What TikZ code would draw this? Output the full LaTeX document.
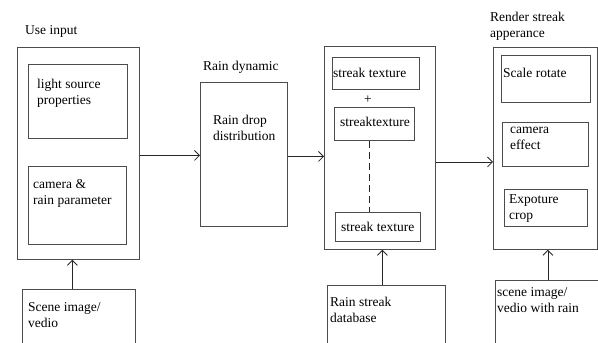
\documentclass[tikz,border=0pt]{standalone}
\usepackage{fontspec}
\setmainfont{Liberation Serif}
\usetikzlibrary{arrows.meta}

\begin{document}
\begin{tikzpicture}[x=1pt,y=-1pt,
	box/.style={draw=black!70,line width=0.8pt,anchor=north west,inner sep=0pt},
	txt/.style={anchor=north west,inner sep=0pt,align=left,font=\rmfamily\fontsize{13.5}{16}\selectfont},
	conn/.style={draw=black!85,line width=0.8pt},
	>={Straight Barb[length=5pt,width=10pt]}]
	\clip (0,0) rectangle (598,343);
	\node[box,minimum width=122pt,minimum height=212pt] (user) at (17,47) {};
	\node[box,minimum width=99pt,minimum height=74pt] (light) at (28,64) {};
	\node[box,minimum width=98pt,minimum height=78pt] (cam) at (28,166) {};
	\node[box,minimum width=113pt,minimum height=75pt] (scene) at (22,289) {};
	\node[box,minimum width=87pt,minimum height=144pt] (rain) at (200,82) {};
	\node[box,minimum width=111pt,minimum height=203pt] (streak) at (324,46) {};
	\node[box,minimum width=87pt,minimum height=32pt] (tex1) at (332,57) {};
	\node[box,minimum width=80pt,minimum height=33pt] (tex2) at (334,107) {};
	\node[box,minimum width=85pt,minimum height=29pt] (tex3) at (335,212) {};
	\node[box,minimum width=118pt,minimum height=75pt] (db) at (327,285) {};
	\node[box,minimum width=104pt,minimum height=202pt] (render) at (493,47) {};
	\node[box,minimum width=89pt,minimum height=47pt] (scale) at (501,55) {};
	\node[box,minimum width=86pt,minimum height=44pt] (camfx) at (502,122) {};
	\node[box,minimum width=83pt,minimum height=37pt] (crop) at (504,189) {};
	\node[box,minimum width=105pt,minimum height=80pt] (out) at (495,280) {};

	\node[txt] (usertxt) at (25,25) {Use input};
	\node[txt] (lighttxt) at (37,79) {light source\\properties};
	\node[txt] (camtxt) at (33,179) {camera \&\\rain parameter};
	\node[txt] (scenetxt) at (28,302) {Scene image/\\vedio};
	\node[txt] (raintitle) at (203,61) {Rain dynamic};
	\node[txt] (raintxt) at (213,115) {Rain drop\\distribution};
	\node[txt] (tex1txt) at (333,68) {streak texture};
	\node[txt] (plus) at (364,96) {+};
	\node[txt] (tex2txt) at (340,117) {streaktexture};
	\node[txt] (tex3txt) at (341,222) {streak texture};
	\node[txt] (dbtxt) at (330,297) {Rain streak\\database};
	\node[txt] (rendertitle) at (490,12) {Render streak\\apperance};
	\node[txt] (scaletxt) at (503,68) {Scale rotate};
	\node[txt] (camfxtxt) at (510,127) {camera\\effect};
	\node[txt] (croptxt) at (509,194) {Expoture\\crop};
	\node[txt] (outtxt) at (497,287) {scene image/\\vedio with rain};

	\draw[conn,->] ([xshift=-6.5pt]scene.north) -- ([xshift=-6.5pt]scene.north |- user.south);
	\draw[conn,->] ([yshift=-2pt]user.east) -- ([yshift=-2pt]user.east -| rain.west);
	\draw[conn,->] ([yshift=-2pt]rain.east) -- ([yshift=-2pt]rain.east -| streak.west);
	\draw[conn,->] ([yshift=-14pt]streak.east) -- ([yshift=-14pt]streak.east -| render.west);
	\draw[conn,->] ([xshift=-4pt]db.north) -- ([xshift=-4pt]db.north |- streak.south);
	\draw[conn,->] (out.north) -- (out.north |- render.south);
	\draw[conn,dashed,dash pattern=on 7pt off 4pt] ([xshift=-5pt]tex2.south) -- ([xshift=-5pt]tex2.south |- tex3.north);
\end{tikzpicture}
\end{document}
